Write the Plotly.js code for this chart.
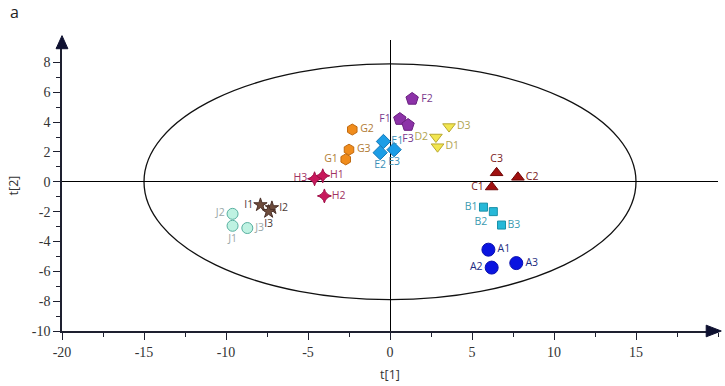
<!DOCTYPE html>
<html>
<head>
<meta charset="utf-8">
<script src="https://cdn.plot.ly/plotly-3.0.1.min.js"></script>
<style>
  html, body { margin: 0; padding: 0; background: #fff; }
  #scorePlot { width: 725px; height: 386px; }
</style>
</head>
<body>
<div id="scorePlot"></div>
<script>
// sample scores
const sampleNames = ['A1', 'A2', 'A3', 'B1', 'B2', 'B3', 'C1', 'C2', 'C3', 'D1', 'D2', 'D3',
    'E1', 'E2', 'E3', 'F1', 'F2', 'F3', 'G1', 'G2', 'G3', 'H1', 'H2', 'H3',
    'I1', 'I2', 'I3', 'J1', 'J2', 'J3'];
const t1 = [6.0, 6.2, 7.7, 5.7, 6.3, 6.8, 6.2, 7.8, 6.5, 2.9, 2.8, 3.6,
    -0.4, -0.6, 0.25, 0.6, 1.35, 1.1, -2.7, -2.3, -2.5, -4.1, -4.0, -4.6,
    -7.9, -7.2, -7.4, -9.6, -9.6, -8.7];
const t2 = [-4.55, -5.75, -5.45, -1.7, -2.0, -2.9, -0.35, 0.3, 0.6, 2.35, 3.0, 3.7,
    2.7, 1.95, 2.15, 4.2, 5.55, 3.8, 1.5, 3.5, 2.15, 0.4, -0.95, 0.2,
    -1.55, -1.75, -2.0, -2.95, -2.15, -3.1];

// Hotelling ellipse semi-axes
const ellipseT1 = 15;
const ellipseT2 = 7.9;

const xTicks = [-20, -15, -10, -5, 0, 5, 10, 15];
const yTicks = [-10, -8, -6, -4, -2, 0, 2, 4, 6, 8];

// label placement for each sample
const labelPos = ['middle right', 'middle left', 'middle right',
    'middle left', 'bottom left', 'middle right',
    'middle left', 'middle right', 'top center',
    'middle right', 'middle left', 'middle right',
    'middle right', 'bottom center', 'bottom center',
    'middle left', 'middle right', 'bottom center',
    'middle left', 'middle right', 'middle right',
    'middle right', 'middle right', 'middle left',
    'middle left', 'middle right', 'bottom center',
    'bottom center', 'middle left', 'middle right'];

const groupStyle = {
    A: { symbol: 'circle', size: 13, color: '#0a14e0', line: '#0a10b0', text: '#1c2a80' },
    B: { symbol: 'square', size: 8, color: '#26b8d8', line: '#1890a8', text: '#3a9ab0' },
    C: { symbol: 'triangle-up', size: 11, color: '#a01010', line: '#700808', text: '#7a2020' },
    D: { symbol: 'triangle-down', size: 11, color: '#f2e650', line: '#b8a830', text: '#b0a450' },
    E: { symbol: 'diamond', size: 11, color: '#1c9de6', line: '#1478b8', text: '#3a8fb8' },
    F: { symbol: 'pentagon', size: 13, color: '#8c32a8', line: '#6a2080', text: '#7a3a8c' },
    G: { symbol: 'hexagon', size: 11, color: '#f08c1c', line: '#c06a10', text: '#b07a34' },
    H: { symbol: 'star-diamond', size: 10, color: '#c8185c', line: '#a01048', text: '#a03262' },
    I: { symbol: 'star', size: 10, color: '#6e4c3c', line: '#4a3028', text: '#4a3a34' },
    J: { symbol: 'circle', size: 11, color: '#bff2e2', line: '#58b0a0', text: '#9aa8a8' }
};

const traces = Object.keys(groupStyle).map(g => {
    const idx = sampleNames.map((n, i) => i).filter(i => sampleNames[i][0] === g);
    const s = groupStyle[g];
    return {
        x: idx.map(i => t1[i]),
        y: idx.map(i => t2[i]),
        text: idx.map(i => sampleNames[i]),
        textposition: idx.map(i => labelPos[i]),
        type: 'scatter',
        mode: 'markers+text',
        name: g,
        cliponaxis: false,
        marker: { symbol: s.symbol, size: s.size, color: s.color, line: { color: s.line, width: 1 } },
        textfont: { family: 'Open Sans, sans-serif', size: 10.5, color: s.text }
    };
});

const axisColor = '#1e2030';
const serif = '"Liberation Serif", "DejaVu Serif", serif';

const layout = {
    width: 725,
    height: 386,
    margin: { l: 62, r: 7, t: 40, b: 55 },
    paper_bgcolor: '#fff',
    plot_bgcolor: '#fff',
    showlegend: false,
    xaxis: {
        range: [-20, 20],
        tickvals: xTicks,
        ticktext: xTicks.map(String),
        ticks: 'outside', ticklen: 7, tickcolor: axisColor, tickwidth: 1.3,
        minor: { dtick: 2.5, tick0: 0, ticks: 'outside', ticklen: 4, tickcolor: axisColor, tickwidth: 1 },
        showgrid: false,
        zeroline: true, zerolinecolor: '#000', zerolinewidth: 1.2,
        showline: true, linecolor: axisColor, linewidth: 1.6,
        tickfont: { family: serif, size: 14, color: '#333' },
        title: { text: 't[1]', font: { family: 'Open Sans, sans-serif', size: 12.5, color: '#333' }, standoff: 12 }
    },
    yaxis: {
        range: [-10, 9.5],
        tickvals: yTicks,
        ticktext: yTicks.map(String),
        ticks: 'outside', ticklen: 7, tickcolor: axisColor, tickwidth: 1.3,
        minor: { dtick: 1, tick0: 0, ticks: 'outside', ticklen: 4, tickcolor: axisColor, tickwidth: 1 },
        showgrid: false,
        zeroline: true, zerolinecolor: '#000', zerolinewidth: 1.2,
        showline: true, linecolor: axisColor, linewidth: 1.6,
        tickfont: { family: serif, size: 14, color: '#333' },
        title: { text: 't[2]', font: { family: 'Open Sans, sans-serif', size: 12.5, color: '#333' }, standoff: 10 }
    },
    shapes: [
        {
            type: 'circle', xref: 'x', yref: 'y',
            x0: -ellipseT1, x1: ellipseT1, y0: -ellipseT2, y1: ellipseT2,
            line: { color: '#111', width: 1.3 }, layer: 'below'
        },
        // arrow heads at the axis ends
        {
            type: 'path', xref: 'paper', yref: 'paper',
            path: 'M 1.005 0 L 0.982 0.02 L 0.982 -0.02 Z',
            fillcolor: '#0e1030', line: { color: '#0e1030', width: 1 }
        },
        {
            type: 'path', xref: 'paper', yref: 'paper',
            path: 'M 0 1.015 L -0.009 0.97 L 0.009 0.97 Z',
            fillcolor: '#0e1030', line: { color: '#0e1030', width: 1 }
        }
    ],
    annotations: [
        {
            text: 'a', xref: 'paper', yref: 'paper', x: -0.083, y: 1.14,
            xanchor: 'left', yanchor: 'top', showarrow: false,
            font: { family: 'Open Sans, sans-serif', size: 16, color: '#222' }
        }
    ]
};

Plotly.newPlot('scorePlot', traces, layout, { displayModeBar: false });
</script>
</body>
</html>
